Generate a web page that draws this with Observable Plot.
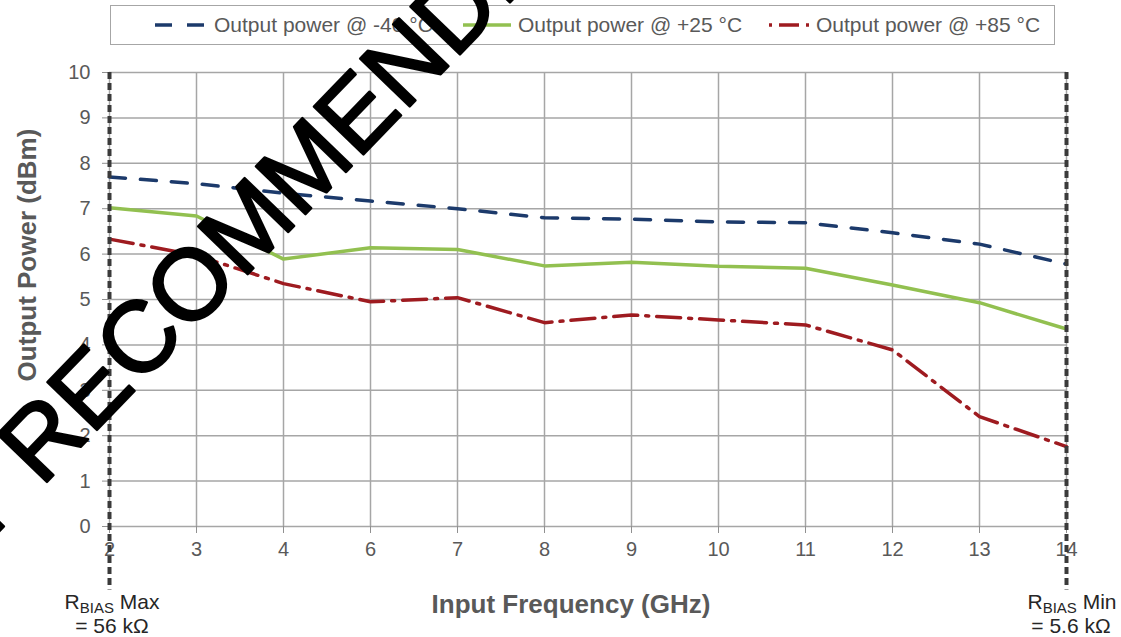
<!DOCTYPE html>
<html>
<head>
<meta charset="utf-8">
<script src="https://cdn.jsdelivr.net/npm/d3@7"></script>
<script src="https://cdn.jsdelivr.net/npm/@observablehq/plot@0.6"></script>
<style>
  html, body { margin: 0; padding: 0; background: #fff; }
  #wrap { position: relative; width: 1121px; height: 637px; font-family: "Liberation Sans", Arial, sans-serif; color: #595959; overflow: hidden; }
  #chart svg { display: block; }
  #legend { position: absolute; left: 110px; top: 5px; width: 943px; height: 38px; border: 1.5px solid #a6a6a6; box-sizing: content-box; }
  .item { position: absolute; top: 0; height: 38px; display: flex; align-items: center; font-size: 21px; white-space: nowrap; }
  .item svg { margin-right: 7px; }
  .rb { position: absolute; font-size: 21px; line-height: 21px; height: 21px; text-align: center; color: #262626; white-space: nowrap; transform: translateX(-50%); }
  .rb sub { font-size: 15px; vertical-align: -4px; line-height: 0; }
  #ytitle { position: absolute; left: 27px; top: 255px; transform: translate(-50%, -50%) rotate(-90deg); font-size: 26px; font-weight: bold; white-space: nowrap; color: #595959; }
  #wm { position: absolute; left: 0; top: 0; pointer-events: none; }
</style>
</head>
<body>
<div id="wrap">
  <div id="chart"></div>
  <div id="legend"></div>
  <div id="ytitle"></div>
  <div class="rb" style="left:112px; top:591px;">R<sub>BIAS</sub> Max</div>
  <div class="rb" style="left:112px; top:615px;">= 56 kΩ</div>
  <div class="rb" style="left:1072px; top:591px;">R<sub>BIAS</sub> Min</div>
  <div class="rb" style="left:1071px; top:615px;">= 5.6 kΩ</div>
  <svg id="wm" width="1121" height="637"></svg>
</div>
<script>
// ---- data ----
const freqs = ["2","3","4","6","7","8","9","10","11","12","13","14"];
const powerM40 = [7.70, 7.55, 7.34, 7.17, 7.00, 6.80, 6.77, 6.71, 6.69, 6.47, 6.22, 5.78];
const powerP25 = [7.02, 6.84, 5.89, 6.14, 6.10, 5.74, 5.82, 5.73, 5.69, 5.32, 4.93, 4.35];
const powerP85 = [6.33, 5.97, 5.35, 4.95, 5.04, 4.49, 4.66, 4.55, 4.44, 3.89, 2.42, 1.76];
const seriesNames = ["Output power @ -40 °C", "Output power @ +25 °C", "Output power @ +85 °C"];
const yTicks = [0,1,2,3,4,5,6,7,8,9,10];
const rbiasFreqs = ["2", "14"];
const rbiasLineBottom = -1.4;
const xTitle = "Input Frequency (GHz)";
const yTitle = "Output Power (dBm)";
const watermarkLead = "NOT";
const watermark = "RECOMMENDED FOR NEW DESIGNS";

const styles = [
  {stroke: "#1c3a6b", dash: "16,15"},
  {stroke: "#92c050", dash: null},
  {stroke: "#9e1b20", dash: "24,8,3,8"}
];

const rows = [];
[powerM40, powerP25, powerP85].forEach((vals, s) => {
  vals.forEach((v, i) => rows.push({series: seriesNames[s], freq: freqs[i], value: v}));
});

const lineMarks = seriesNames.map((name, s) =>
  Plot.line(rows.filter(d => d.series === name), {
    x: "freq", y: "value",
    stroke: styles[s].stroke, strokeWidth: 3.5,
    strokeDasharray: styles[s].dash || undefined,
    strokeLinejoin: "round"
  })
);

const chart = Plot.plot({
  width: 1121, height: 637,
  marginLeft: 109, marginRight: 55, marginTop: 72, marginBottom: 111,
  x: {type: "point", domain: freqs, padding: 0},
  y: {domain: [0, 10]},
  style: {fontFamily: "'Liberation Sans', Arial, sans-serif", background: "transparent", overflow: "visible"},
  marks: [
    Plot.gridY(yTicks, {stroke: "#a6a6a6", strokeOpacity: 1, strokeWidth: 1.5}),
    Plot.gridX({stroke: "#a6a6a6", strokeOpacity: 1, strokeWidth: 1.5}),
    Plot.axisY({ticks: yTicks, tickSize: 7, tickPadding: 12, fontSize: 20, fill: "#595959", stroke: "#909090", label: null}),
    Plot.axisX({tickSize: 7, tickPadding: 8, fontSize: 20, fill: "#595959", stroke: "#909090", label: null}),
    ...lineMarks,
    Plot.ruleX(rbiasFreqs, {x: d => d, y1: 10, y2: rbiasLineBottom, stroke: "#3a3a3a", strokeWidth: 4, strokeDasharray: "7,4"}),
    Plot.text([xTitle], {frameAnchor: "bottom", dx: -17, dy: 86, text: d => d, fontSize: 26, fontWeight: "bold", fill: "#595959"})
  ]
});
document.getElementById("chart").appendChild(chart);
document.getElementById("ytitle").textContent = yTitle;

// ---- legend ----
const legend = document.getElementById("legend");
const legendPos = [44, 352, 658];
const sampleW = [52, 48, 40];
seriesNames.forEach((name, s) => {
  const it = document.createElement("div");
  it.className = "item";
  it.style.left = legendPos[s] + "px";
  const w = sampleW[s];
  it.innerHTML = `<svg width="${w}" height="10"><line x1="0" y1="5" x2="${w}" y2="5" stroke="${styles[s].stroke}" stroke-width="3.5" ${styles[s].dash ? `stroke-dasharray="${s===0 ? '17,15' : '3,7,20,7'}"` : ""}/></svg><span>${name}</span>`;
  legend.appendChild(it);
});

// ---- watermark ----
const wm = d3.select("#wm");
const wg = wm.append("g")
  .attr("transform", "translate(41.2,487.8) rotate(-46)")
  .attr("font-family", "'Liberation Sans', Arial, sans-serif")
  .attr("font-size", 100)
  .attr("fill", "#000")
  .attr("stroke", "#000")
  .attr("stroke-width", 2.5)
  .attr("stroke-linejoin", "round");
wg.append("text").attr("x", 0).text(watermark);
wg.append("text").attr("x", -27.8).attr("text-anchor", "end").text(watermarkLead);
</script>
</body>
</html>
